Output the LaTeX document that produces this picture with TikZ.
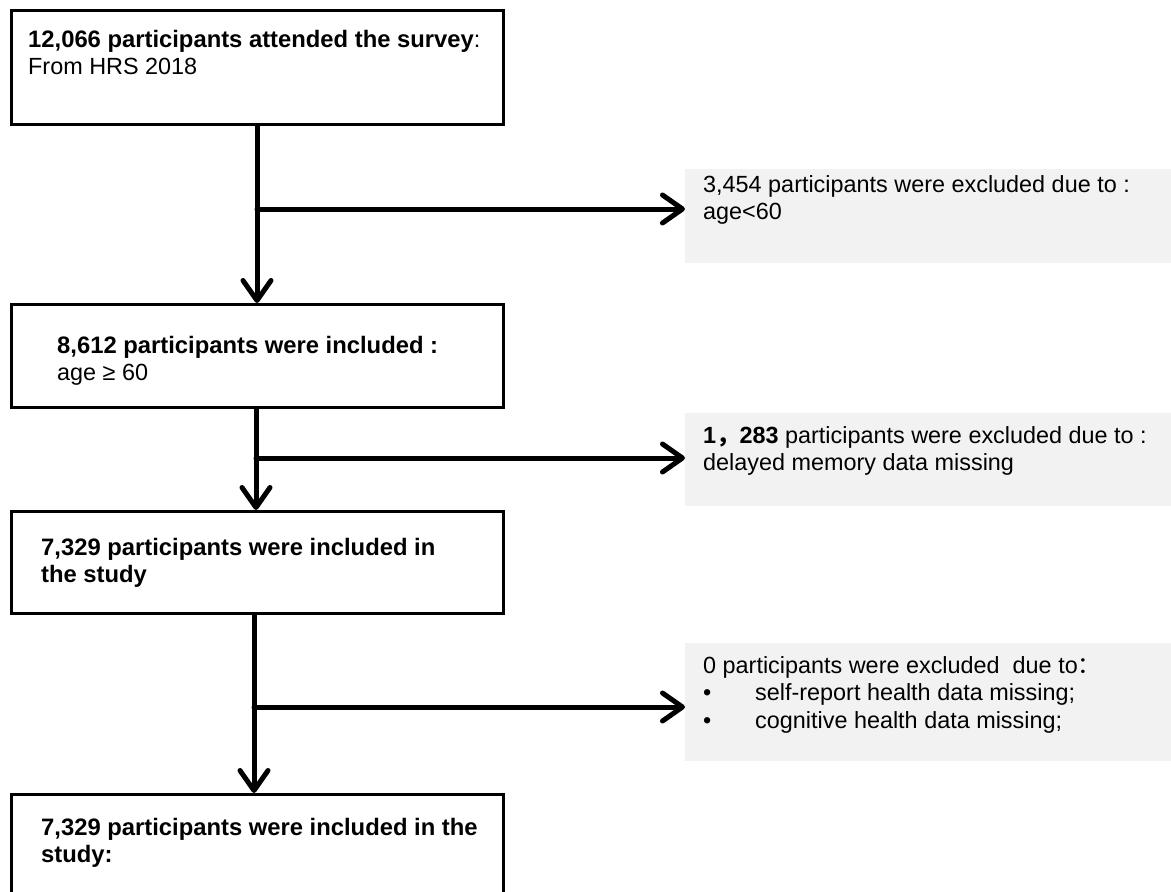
\documentclass[tikz,border=0pt]{standalone}
\usepackage{fontspec}
\setmainfont{Liberation Sans}
\newfontfamily\cjkfont{Noto Sans CJK SC}
\usetikzlibrary{arrows.meta}
\definecolor{exclgray}{RGB}{242,242,242}
\begin{document}
\begin{tikzpicture}[x=1pt,y=-1pt,
  flowbox/.style={draw=black, line width=2.5pt, fill=white, minimum width=492pt,
    anchor=north west, inner sep=0pt},
  exclbox/.style={fill=exclgray, draw=none, minimum width=500pt,
    anchor=north west, inner sep=0pt},
  boxtext/.style={anchor=north west, inner sep=0pt, align=left,
    font=\fontsize{23.4}{27.5}\selectfont},
  flowarrow/.style={line width=5pt, line cap=round,
    -{Straight Barb[length=20pt,width=28pt,round]}},
]
\useasboundingbox (0,0) rectangle (1171,892);
\clip (0,0) rectangle (1171,892);

% main flow boxes
\node[flowbox, minimum height=114pt] (b1) at (10,9) {};
\node[flowbox, minimum height=103pt] (b2) at (10,303) {};
\node[flowbox, minimum height=102pt] (b3) at (10,510) {};
\node[flowbox, minimum height=150pt] (b4) at (10,793) {};

% exclusion boxes
\node[exclbox, minimum height=94pt]  (gA) at (685,169) {};
\node[exclbox, minimum height=93pt]  (gB) at (685,413) {};
\node[exclbox, minimum height=118pt] (gC) at (685,643) {};

% box texts
\node[boxtext] (t1) at (28,30)
  {{\fontsize{23.8}{27.5}\selectfont\textbf{12,066 participants attended the survey}}:\\From HRS 2018};
\node[boxtext] (t2) at (57,336)
  {{\fontsize{23.8}{27.5}\selectfont\textbf{8,612 participants were included :}}\\age ≥ 60};
\node[boxtext, font=\fontsize{23.8}{27.5}\selectfont] (t3) at (41,538)
  {\textbf{7,329 participants were included in}\\\textbf{the study}};
\node[boxtext, font=\fontsize{23.8}{27.5}\selectfont] (t4) at (41,818)
  {\textbf{7,329 participants were included in the}\\\textbf{study:}};

\node[boxtext] (tA) at (703,175)
  {3,454 participants were excluded due to :\\age<60};
\node[boxtext] (tB) at (703,426)
  {\textbf{1{\cjkfont ，}283} participants were excluded due to :\\delayed memory data missing};
\node[boxtext] (tC) at (703,656)
  {0 participants were excluded\ \ due to{\cjkfont ：}\\
   \makebox[52pt][l]{•}self-report health data missing;\\
   \makebox[52pt][l]{•}cognitive health data missing;};

% junctions on the main flow line
\coordinate (j1) at (257,209);
\coordinate (j2) at (256,458);
\coordinate (j3) at (254,707);

% connectors
\draw[flowarrow] (j1 |- b1.south) -- (j1 |- b2.north);
\draw[flowarrow] (j1) -- (j1 -| gA.west);
\draw[flowarrow] (j2 |- b2.south) -- (j2 |- b3.north);
\draw[flowarrow] (j2) -- (j2 -| gB.west);
\draw[flowarrow] (j3 |- b3.south) -- (j3 |- b4.north);
\draw[flowarrow] (j3) -- (j3 -| gC.west);
\end{tikzpicture}
\end{document}
